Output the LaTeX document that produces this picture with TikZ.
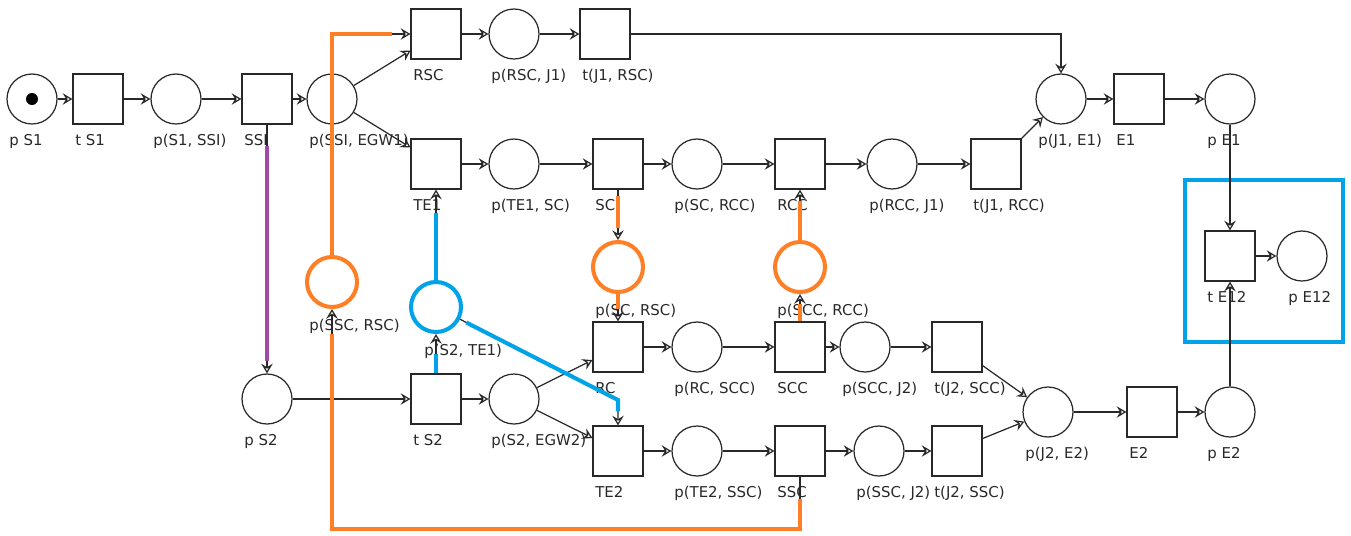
\documentclass[tikz,border=0pt]{standalone}
\usepackage{fontspec}
\setmainfont{DejaVu Sans}
\usetikzlibrary{arrows.meta}
\definecolor{netgray}{RGB}{40,40,40}
\definecolor{hlorange}{RGB}{255,127,39}
\definecolor{hlblue}{RGB}{0,162,232}
\definecolor{hlpurple}{RGB}{163,73,164}

\begin{document}
\begin{tikzpicture}[
  x=0.02cm, y=-0.02cm,
  font=\fontsize{8.5}{10}\selectfont,
  place/.style={circle, draw=netgray, line width=0.7pt, minimum size=1cm, inner sep=0pt},
  trans/.style={rectangle, draw=netgray, line width=0.7pt, minimum size=1cm, inner sep=0pt},
  hlplace/.style={place, draw=#1, line width=2.3pt},
  tok/.style={circle, fill=black, minimum size=0.24cm, inner sep=0pt},
  lbl/.style={anchor=north west, inner sep=0pt, text height=6.2pt, text depth=1.8pt,
              xshift=-0.46cm, yshift=-0.2cm, text=netgray},
  arc/.style={-{Stealth[open, length=5.5pt, width=6.5pt, inset=2pt]}, line width=0.7pt, netgray},
  hl/.style n args={3}{postaction={draw=#1, line width=2.3pt, arrows=-, shorten <=#2, shorten >=#3}},
]
\useasboundingbox (0,0) rectangle (1351,535);

% --- Top chain ---
\node[place, label={[lbl]-90:p S1}] (pS1) at (32,99) {};
\node[tok] (tokS1) at (pS1) {};
\node[trans, label={[lbl]-90:t S1}] (tS1) at (98,99) {};
\node[place, label={[lbl]-90:{p(S1, SSI)}}] (pS1SSI) at (176,99) {};
\node[trans, label={[lbl]-90:SSI}] (SSI) at (267,99) {};
\node[place, label={[lbl]-90:{p(SSI, EGW1)}}] (pSSIEGW1) at (332,99) {};
\node[trans, label={[lbl]-90:RSC}] (RSC) at (436,34) {};
\node[place, label={[lbl]-90:{p(RSC, J1)}}] (pRSCJ1) at (514,34) {};
\node[trans, label={[lbl]-90:{t(J1, RSC)}}] (tJ1RSC) at (605,34) {};
\node[place, label={[lbl]-90:{p(J1, E1)}}] (pJ1E1) at (1061,99) {};
\node[trans, label={[lbl]-90:E1}] (E1) at (1139,99) {};
\node[place, label={[lbl]-90:p E1}] (pE1) at (1230,99) {};

% --- Second row ---
\node[trans, label={[lbl]-90:TE1}] (TE1) at (436,164) {};
\node[place, label={[lbl]-90:{p(TE1, SC)}}] (pTE1SC) at (514,164) {};
\node[trans, label={[lbl]-90:SC}] (SC) at (618,164) {};
\node[place, label={[lbl]-90:{p(SC, RCC)}}] (pSCRCC) at (697,164) {};
\node[trans, label={[lbl]-90:RCC}] (RCC) at (800,164) {};
\node[place, label={[lbl]-90:{p(RCC, J1)}}] (pRCCJ1) at (892,164) {};
\node[trans, label={[lbl]-90:{t(J1, RCC)}}] (tJ1RCC) at (996,164) {};

% --- Highlighted places ---
\node[hlplace=hlorange, label={[lbl]-90:{p(SSC, RSC)}}] (pSSCRSC) at (332,282) {};
\node[hlplace=hlblue, label={[lbl, xshift=0.22cm]-90:{p(S2, TE1)}}] (pS2TE1) at (436,307) {};
\node[hlplace=hlorange, label={[lbl]-90:{p(SC, RSC)}}] (pSCRSC) at (618,267) {};
\node[hlplace=hlorange, label={[lbl]-90:{p(SCC, RCC)}}] (pSCCRCC) at (800,267) {};

% --- Third row ---
\node[trans, label={[lbl]-90:RC}] (RC) at (618,347) {};
\node[place, label={[lbl]-90:{p(RC, SCC)}}] (pRCSCC) at (697,347) {};
\node[trans, label={[lbl]-90:SCC}] (SCC) at (800,347) {};
\node[place, label={[lbl]-90:{p(SCC, J2)}}] (pSCCJ2) at (865,347) {};
\node[trans, label={[lbl]-90:{t(J2, SCC)}}] (tJ2SCC) at (957,347) {};

% --- Bottom chain ---
\node[place, label={[lbl]-90:p S2}] (pS2) at (267,399) {};
\node[trans, label={[lbl]-90:t S2}] (tS2) at (436,399) {};
\node[place, label={[lbl]-90:{p(S2, EGW2)}}] (pS2EGW2) at (514,399) {};
\node[place, label={[lbl]-90:{p(J2, E2)}}] (pJ2E2) at (1048,412) {};
\node[trans, label={[lbl]-90:E2}] (E2) at (1152,412) {};
\node[place, label={[lbl]-90:p E2}] (pE2) at (1230,412) {};
\node[trans, label={[lbl]-90:TE2}] (TE2) at (618,451) {};
\node[place, label={[lbl]-90:{p(TE2, SSC)}}] (pTE2SSC) at (697,451) {};
\node[trans, label={[lbl]-90:SSC}] (SSC) at (800,451) {};
\node[place, label={[lbl]-90:{p(SSC, J2)}}] (pSSCJ2) at (879,451) {};
\node[trans, label={[lbl]-90:{t(J2, SSC)}}] (tJ2SSC) at (957,451) {};

% --- End part (boxed) ---
\draw[hlblue, line width=2.3pt] (1185,180) rectangle (1343,342);
\node[trans, label={[lbl]-90:t E12}] (tE12) at (1230,256) {};
\node[place, label={[lbl, xshift=0.18cm]-90:p E12}] (pE12) at (1302,256) {};
\coordinate (bendTE2) at (618,400);

% --- Arcs, top ---
\draw[arc] (pS1) -- (tS1);
\draw[arc] (tS1) -- (pS1SSI);
\draw[arc] (pS1SSI) -- (SSI);
\draw[arc] (SSI) -- (pSSIEGW1);
\draw[arc] (pSSIEGW1) -- (RSC.213);
\draw[arc] (pSSIEGW1) -- (TE1.147);
\draw[arc] (RSC) -- (pRSCJ1);
\draw[arc] (pRSCJ1) -- (tJ1RSC);
\draw[arc] (tJ1RSC) -| (pJ1E1);
\draw[arc] (TE1) -- (pTE1SC);
\draw[arc] (pTE1SC) -- (SC);
\draw[arc] (SC) -- (pSCRCC);
\draw[arc] (pSCRCC) -- (RCC);
\draw[arc] (RCC) -- (pRCCJ1);
\draw[arc] (pRCCJ1) -- (tJ1RCC);
\draw[arc] (tJ1RCC.north east) -- (pJ1E1);
\draw[arc] (pJ1E1) -- (E1);
\draw[arc] (E1) -- (pE1);
\draw[arc] (pE1) -- (tE12);
\draw[arc] (tE12) -- (pE12);

% --- Arcs, bottom ---
\draw[arc] (pS2) -- (tS2);
\draw[arc] (tS2) -- (pS2EGW2);
\draw[arc] (pS2EGW2) -- (RC.207);
\draw[arc] (pS2EGW2) -- (TE2.153);
\draw[arc] (RC) -- (pRCSCC);
\draw[arc] (pRCSCC) -- (SCC);
\draw[arc] (SCC) -- (pSCCJ2);
\draw[arc] (pSCCJ2) -- (tJ2SCC);
\draw[arc] (tJ2SCC.324) -- (pJ2E2);
\draw[arc] (TE2) -- (pTE2SSC);
\draw[arc] (pTE2SSC) -- (SSC);
\draw[arc] (SSC) -- (pSSCJ2);
\draw[arc] (pSSCJ2) -- (tJ2SSC);
\draw[arc] (tJ2SSC.26) -- (pJ2E2);
\draw[arc] (pJ2E2) -- (E2);
\draw[arc] (E2) -- (pE2);
\draw[arc] (pE2) -- (tE12);

% --- Highlighted arcs ---
\draw[arc, hl={hlpurple}{0.42cm}{0.24cm}] (SSI) -- (pS2);
\draw[arc, hl={hlorange}{0.12cm}{0.24cm}] (SC) -- (pSCRSC);
\draw[arc, hl={hlorange}{0cm}{0.24cm}] (pSCRSC) -- (RC);
\draw[arc, hl={hlorange}{0cm}{0.2cm}] (SCC) -- (pSCCRCC);
\draw[arc, hl={hlorange}{0cm}{0.22cm}] (pSCCRCC) -- (RCC);
\draw[arc, hl={hlorange}{0.44cm}{0.5cm}] (SSC.south) -- ++(0,52) -| (pSSCRSC);
\draw[arc, hl={hlorange}{0cm}{0.36cm}] (pSSCRSC) |- (RSC);
\draw[arc, hl={hlblue}{0cm}{0.4cm}] (tS2) -- (pS2TE1);
\draw[arc, hl={hlblue}{0cm}{0.46cm}] (pS2TE1) -- (TE1);
\draw[arc, hl={hlblue}{0.14cm}{0.28cm}] (pS2TE1) -- (bendTE2) -- (TE2);

\end{tikzpicture}
\end{document}
